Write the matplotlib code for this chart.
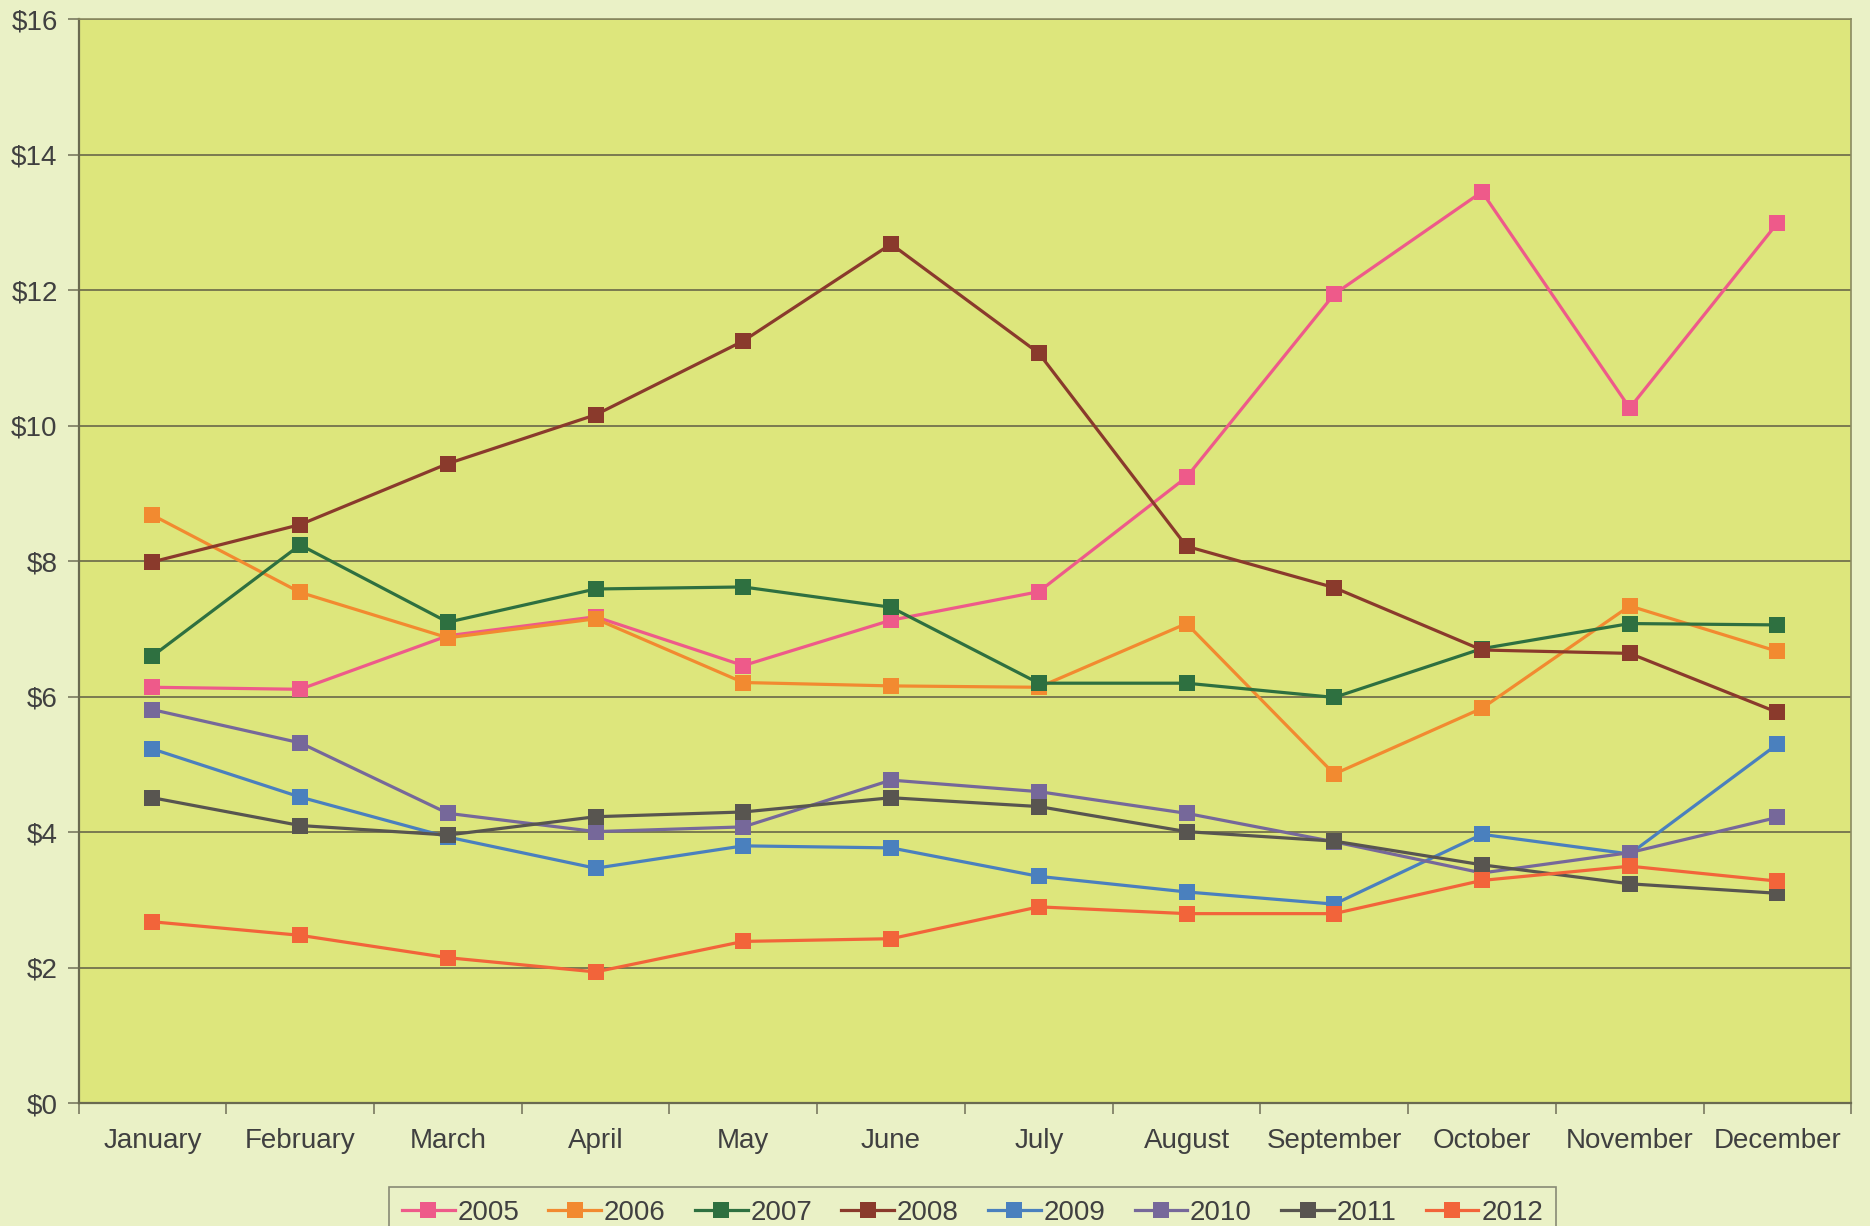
import matplotlib.pyplot as plt
import numpy as np

months = ['January', 'February', 'March', 'April', 'May', 'June', 'July',
          'August', 'September', 'October', 'November', 'December']

y2005 = [6.14, 6.11, 6.90, 7.18, 6.46, 7.13, 7.55, 9.24, 11.94, 13.45, 10.26, 12.99]
y2006 = [8.68, 7.54, 6.87, 7.15, 6.21, 6.16, 6.14, 7.08, 4.86, 5.83, 7.34, 6.67]
y2007 = [6.60, 8.24, 7.10, 7.59, 7.62, 7.32, 6.20, 6.20, 5.99, 6.71, 7.08, 7.06]
y2008 = [7.99, 8.54, 9.44, 10.16, 11.25, 12.68, 11.07, 8.22, 7.61, 6.69, 6.64, 5.77]
y2009 = [5.23, 4.52, 3.93, 3.47, 3.80, 3.77, 3.35, 3.12, 2.94, 3.97, 3.68, 5.30]
y2010 = [5.81, 5.32, 4.28, 4.01, 4.08, 4.77, 4.60, 4.28, 3.86, 3.40, 3.70, 4.22]
y2011 = [4.51, 4.10, 3.96, 4.23, 4.30, 4.51, 4.38, 4.01, 3.87, 3.52, 3.24, 3.10]
y2012 = [2.68, 2.48, 2.15, 1.94, 2.39, 2.43, 2.90, 2.80, 2.80, 3.29, 3.50, 3.28]

years = ['2005', '2006', '2007', '2008', '2009', '2010', '2011', '2012']
series = [y2005, y2006, y2007, y2008, y2009, y2010, y2011, y2012]
colors = ['#EE5A8A', '#F28A30', '#2E7040', '#8A3A2C', '#4A80BE',
          '#76689A', '#585550', '#F2643A']

fig = plt.figure(figsize=(18.7, 12.26), dpi=100, facecolor='#EAF1C6')
ax = fig.add_axes([0.042, 0.100, 0.948, 0.8845])
ax.set_facecolor('#DDE67C')

x = np.arange(len(months))
for name, vals, c in zip(years, series, colors):
    ax.plot(x, vals, color=c, lw=2.3, marker='s', markersize=11,
            markeredgewidth=0, label=name, zorder=3)

ax.set_xlim(-0.5, 11.5)
ax.set_ylim(0, 16)
ax.set_yticks(np.arange(0, 17, 2))
ax.set_yticklabels(['$%d' % v for v in range(0, 17, 2)])
ax.yaxis.grid(True, color='#7A7A50', lw=1.4)
ax.set_axisbelow(True)

ax.set_xticks(x)
ax.set_xticklabels(months)
ax.set_xticks(np.arange(-0.5, 12, 1), minor=True)
ax.tick_params(axis='x', which='major', length=0, pad=18)
ax.tick_params(axis='x', which='minor', length=8, width=1.2, color='#7A7A60')
ax.tick_params(axis='y', length=8, width=1.2, color='#7A7A60', pad=7)
ax.tick_params(labelsize=20, labelcolor='#404040')
for lbl in ax.get_xticklabels() + ax.get_yticklabels():
    lbl.set_family('Liberation Sans')

for side in ['top', 'right']:
    ax.spines[side].set_color('#8A8A60')
    ax.spines[side].set_linewidth(1.2)
for side in ['left', 'bottom']:
    ax.spines[side].set_color('#6A6A50')
    ax.spines[side].set_linewidth(1.6)

leg = fig.legend(loc='upper center', bbox_to_anchor=(0.52, 0.043), ncol=8,
                 frameon=True, fancybox=False, handlelength=1.9,
                 handletextpad=0.1, columnspacing=1.05,
                 prop={'family': 'Liberation Sans', 'size': 20},
                 borderpad=0.45)
leg.get_frame().set_edgecolor('#707060')
leg.get_frame().set_facecolor('#EAF1C6')
leg.get_frame().set_linewidth(1.2)
for t in leg.get_texts():
    t.set_color('#404040')

fig.savefig('out.png', dpi=100, facecolor=fig.get_facecolor())
